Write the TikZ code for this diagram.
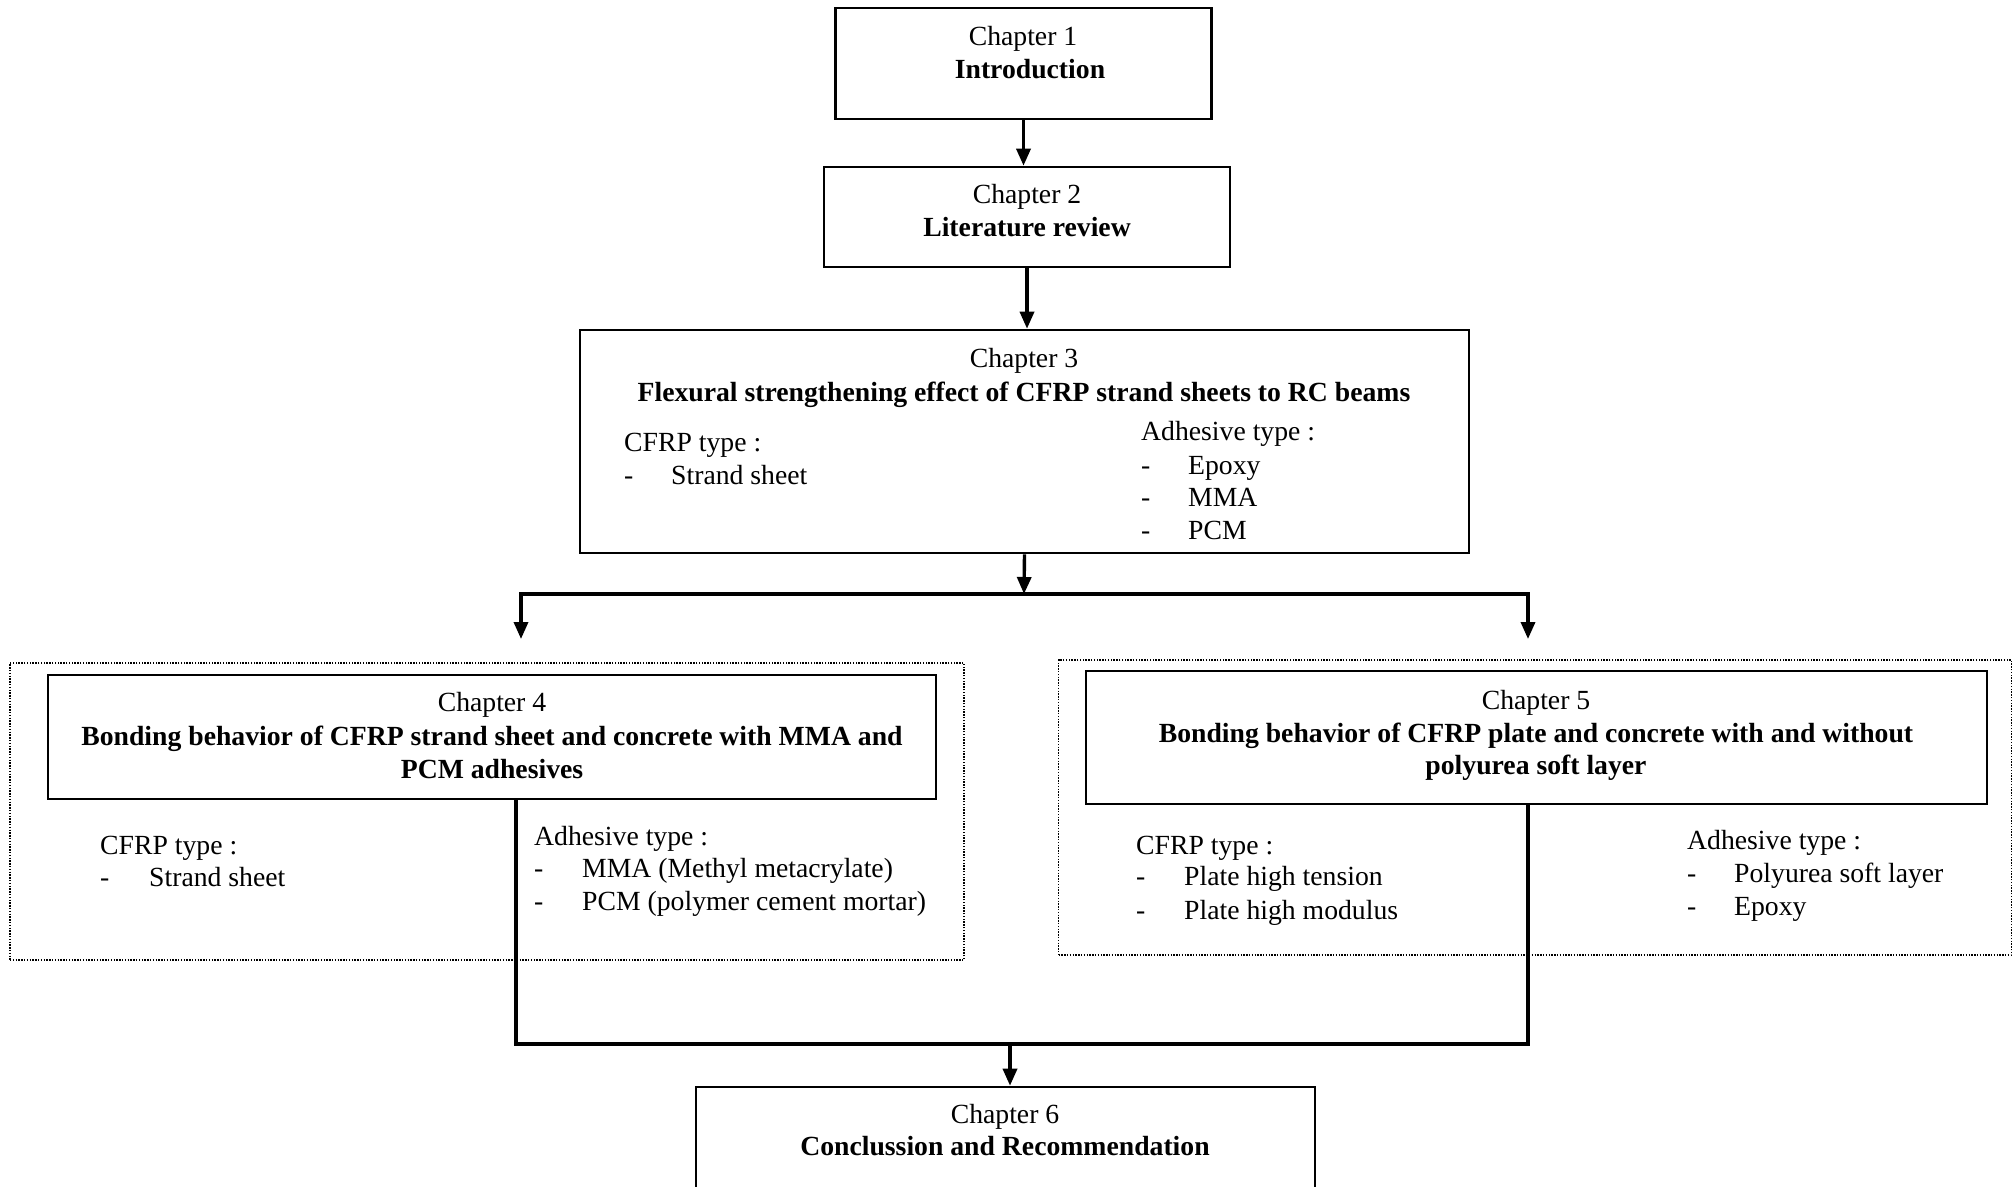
\documentclass[tikz,border=0pt]{standalone}
\usepackage{fontspec}
\setmainfont{Liberation Serif}
\usetikzlibrary{arrows.meta}
\begin{document}
\begin{tikzpicture}[x=1pt,y=-1pt,
  box/.style={draw, line width=2.6pt, inner sep=0pt},
  dotbox/.style={draw, line width=1.6pt, dash pattern=on 1.4pt off 1.4pt, inner sep=0pt},
  conn/.style={line width=3.4pt},
  tip/.style={-{Triangle[length=17pt,width=14pt]}},
  txt/.style={font=\fontsize{27.7}{33}\selectfont, inner sep=0pt, anchor=base west},
  ctr/.style={font=\fontsize{27.7}{33}\selectfont, inner sep=0pt, anchor=base},
  bctr/.style={font=\fontsize{27.7}{33}\selectfont\bfseries, inner sep=0pt, anchor=base}]
\useasboundingbox (0,0) rectangle (2013,1186);
% boxes
\node[box, minimum width=376pt, minimum height=111pt] (c1) at (1023.5,63.5) {};
\node[box, minimum width=406pt, minimum height=100pt] (c2) at (1027,217) {};
\node[box, minimum width=889pt, minimum height=223pt] (c3) at (1024.5,441.5) {};
\node[dotbox, minimum width=954pt, minimum height=297pt] (d4) at (487,811.5) {};
\node[dotbox, minimum width=953pt, minimum height=295pt] (d5) at (1535,807.5) {};
\node[box, minimum width=888pt, minimum height=124pt] (c4) at (492,737) {};
\node[box, minimum width=901pt, minimum height=133pt] (c5) at (1536.5,737.5) {};
\node[box, minimum width=619pt, minimum height=115pt] (c6) at (1005.5,1144.5) {};
% texts chapter 1-2
\node[ctr] (t1a) at (1023,45) {Chapter 1};
\node[bctr] (t1b) at (1030,78) {Introduction};
\node[ctr] (t2a) at (1027,203) {Chapter 2};
\node[bctr] (t2b) at (1027,236) {Literature review};
% chapter 3
\node[ctr] (t3a) at (1024,367) {Chapter 3};
\node[bctr] (t3b) at (1024,401) {Flexural strengthening effect of CFRP strand sheets to RC beams};
\node[txt] (t3c) at (624,451) {CFRP type :};
\node[txt] (t3d) at (624,484) {-};
\node[txt] (t3e) at (671,484) {Strand sheet};
\node[txt] (t3f) at (1141,440) {Adhesive type :};
\node[txt] (t3g) at (1141,474) {-};
\node[txt] (t3h) at (1188,474) {Epoxy};
\node[txt] (t3i) at (1141,506) {-};
\node[txt] (t3j) at (1188,506) {MMA};
\node[txt] (t3k) at (1141,539) {-};
\node[txt] (t3l) at (1188,539) {PCM};
% chapter 4
\node[ctr] (t4a) at (492,711) {Chapter 4};
\node[bctr] (t4b) at (492,745) {Bonding behavior of CFRP strand sheet and concrete with MMA and};
\node[bctr] (t4c) at (492,778) {PCM adhesives};
\node[txt] (t4d) at (100,854) {CFRP type :};
\node[txt] (t4e) at (100,886) {-};
\node[txt] (t4f) at (149,886) {Strand sheet};
\node[txt] (t4g) at (534,845) {Adhesive type :};
\node[txt] (t4h) at (534,877) {-};
\node[txt] (t4i) at (582,877) {MMA (Methyl metacrylate)};
\node[txt] (t4j) at (534,910) {-};
\node[txt] (t4k) at (582,910) {PCM (polymer cement mortar)};
% chapter 5
\node[ctr] (t5a) at (1536,709) {Chapter 5};
\node[bctr] (t5b) at (1536,742) {Bonding behavior of CFRP plate and concrete with and without};
\node[bctr] (t5c) at (1536,774) {polyurea soft layer};
\node[txt] (t5d) at (1136,854) {CFRP type :};
\node[txt] (t5e) at (1136,885) {-};
\node[txt] (t5f) at (1184,885) {Plate high tension};
\node[txt] (t5g) at (1136,919) {-};
\node[txt] (t5h) at (1184,919) {Plate high modulus};
\node[txt] (t5i) at (1687,849) {Adhesive type :};
\node[txt] (t5j) at (1687,882) {-};
\node[txt] (t5k) at (1734,882) {Polyurea soft layer};
\node[txt] (t5l) at (1687,915) {-};
\node[txt] (t5m) at (1734,915) {Epoxy};
% chapter 6
\node[ctr] (t6a) at (1005,1123) {Chapter 6};
\node[bctr] (t6b) at (1005,1155) {Conclussion and Recommendation};
% connectors
\coordinate (j3) at (1024,594);
\coordinate (jl) at (521,594);
\coordinate (jr) at (1528,594);
\coordinate (al) at (521,639);
\coordinate (ar) at (1528,639);
\coordinate (bl) at (516,1044);
\coordinate (br) at (1528,1044);
\coordinate (bm) at (1010,1044);
\draw[conn, tip] (c1.south) -- (c1.south |- c2.north);
\draw[conn, tip] (c2.south) -- (c2.south |- c3.north);
\draw[conn, tip] (c3.south) -- (j3);
\draw[conn, {Triangle[length=17pt,width=14pt]}-{Triangle[length=17pt,width=14pt]}] (al) -- (jl) -- (jr) -- (ar);
\draw[conn] (c4.south -| bl) -- (bl) -- (br) -- (c5.south -| br);
\draw[conn, tip] (bm) -- (bm |- c6.north);
\end{tikzpicture}
\end{document}
